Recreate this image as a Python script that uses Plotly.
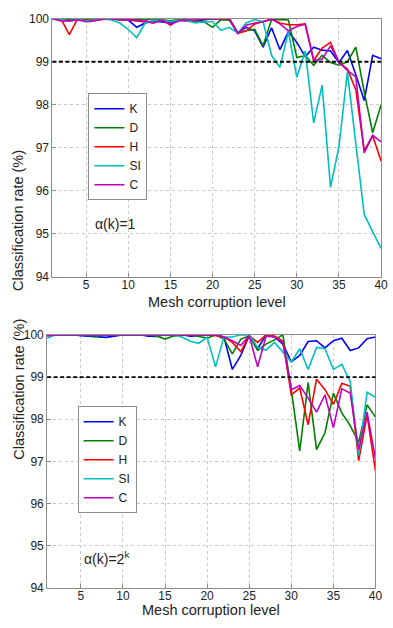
import plotly.graph_objects as go

levels = list(range(1, 41))
series_names = ["K", "D", "H", "SI", "C"]
series_colors = ["#0000FF", "#008000", "#FF0000", "#00BFBF", "#BF00BF"]
threshold = 99

# alpha(k) = 1
top_K = [100, 100, 99.98, 100, 99.97, 99.98, 100, 100, 100, 99.97,
         99.8, 99.9, 99.95, 99.93, 99.9, 99.97, 99.95, 99.95, 99.98, 100,
         100, 99.98, 99.67, 99.8, 99.72, 99.34, 99.79, 99.28, 99.7, 99.45,
         99.12, 99.34, 99.27, 99.25, 98.98, 99.26, 98.7, 98.1, 99.15, 99.07]
top_D = [100, 100, 99.98, 100, 99.98, 99.97, 100, 100, 99.98, 100,
         99.98, 99.97, 100, 99.98, 99.95, 99.98, 99.97, 99.92, 99.93, 99.8,
         99.98, 99.97, 99.66, 99.72, 99.75, 99.37, 99.98, 99.98, 99.97, 99.1,
         99.14, 98.92, 99.15, 98.98, 98.92, 99.0, 99.34, 98.3, 97.35, 98.0]
top_H = [100, 100, 99.63, 100, 99.95, 99.97, 99.98, 100, 99.97, 99.98,
         99.95, 99.92, 99.9, 99.97, 99.85, 99.97, 99.95, 99.97, 100, 100,
         100, 100, 99.66, 99.72, 99.88, 99.93, 99.99, 99.9, 99.86, 99.86,
         99.88, 99.03, 99.32, 99.45, 98.98, 98.83, 98.35, 96.93, 97.28, 96.69]
top_SI = [100, 99.98, 99.95, 99.98, 99.95, 99.97, 100, 99.97, 99.9, 99.75,
          99.56, 99.9, 99.95, 99.97, 99.93, 99.97, 99.95, 99.9, 99.93, 99.93,
          99.73, 99.8, 99.66, 99.9, 99.98, 99.93, 99.15, 98.87, 99.7, 98.64,
          99.25, 97.58, 98.45, 96.08, 97.03, 98.76, 97.1, 95.45, 95.05, 94.66]
top_C = [100, 99.95, 99.95, 99.97, 99.93, 99.95, 100, 100, 99.98, 99.97,
         99.97, 99.95, 99.9, 99.97, 99.87, 99.95, 99.97, 99.97, 100, 100,
         100, 100, 99.66, 99.85, 99.9, 99.93, 99.99, 99.88, 99.72, 99.82,
         99.87, 99.04, 99.06, 99.37, 98.99, 98.8, 98.65, 96.88, 97.29, 97.14]

# alpha(k) = 2^k
bot_K = [100, 100, 100, 100, 99.98, 99.97, 99.95, 99.94, 99.97, 100,
         100, 100, 99.97, 99.96, 100, 100, 100, 99.97, 99.98, 100,
         100, 99.95, 99.18, 99.51, 99.98, 99.67, 100, 99.95, 99.78, 99.36,
         99.51, 99.84, 99.86, 99.69, 99.86, 99.92, 99.63, 99.69, 99.91, 99.95]
bot_D = [100, 100, 100, 100, 100, 99.98, 99.97, 100, 100, 100,
         100, 100, 100, 99.97, 99.9, 99.97, 100, 100, 99.96, 99.92,
         100, 99.9, 99.55, 99.9, 99.97, 99.63, 99.78, 99.88, 100, 98.7,
         97.25, 98.87, 97.28, 97.68, 98.62, 98.15, 97.85, 97.45, 98.34, 98.05]
bot_H = [100, 100, 100, 100, 100, 100, 100, 100, 100, 100,
         100, 100, 100, 100, 100, 100, 100, 100, 100, 100,
         99.98, 99.95, 99.82, 99.6, 99.98, 99.82, 100, 99.97, 99.85, 98.58,
         98.74, 97.87, 98.95, 98.7, 98.35, 98.85, 98.78, 97.02, 98.1, 96.77]
bot_SI = [99.92, 100, 100, 100, 100, 100, 100, 100, 100, 100,
          100, 100, 100, 100, 100, 100, 99.95, 99.85, 99.8, 99.94,
          99.24, 99.95, 99.95, 100, 100, 99.7, 99.64, 99.82, 99.59, 99.36,
          99.67, 99.18, 99.7, 99.67, 99.18, 99.3, 98.89, 97.14, 98.64, 98.52]
bot_C = [99.97, 100, 100, 100, 100, 100, 100, 100, 100, 100,
         100, 100, 100, 100, 100, 100, 100, 100, 100, 100,
         100, 99.95, 99.86, 99.75, 99.98, 99.24, 99.97, 99.95, 99.82, 98.7,
         98.8, 98.5, 98.17, 98.58, 97.8, 98.72, 98.62, 97.28, 98.17, 97.06]

x_ticks = [5, 10, 15, 20, 25, 30, 35, 40]
y_ticks = [94, 95, 96, 97, 98, 99, 100]
x_title = "Mesh corruption level"
y_title = "Classification rate (%)"
labels = ["α(k)=1", "α(k)=2<sup>k</sup>"]

FONT = "Arial, Liberation Sans, sans-serif"
W, H = 393, 628

fig = go.Figure()
tops = [top_K, top_D, top_H, top_SI, top_C]
bots = [bot_K, bot_D, bot_H, bot_SI, bot_C]
for name, col, ys in zip(series_names, series_colors, tops):
    fig.add_trace(go.Scatter(x=levels, y=ys, mode="lines", name=name,
                             line=dict(color=col, width=1.6),
                             xaxis="x", yaxis="y", legend="legend"))
for name, col, ys in zip(series_names, series_colors, bots):
    fig.add_trace(go.Scatter(x=levels, y=ys, mode="lines", name=name,
                             line=dict(color=col, width=1.6),
                             xaxis="x2", yaxis="y2", legend="legend2"))

def ax(domain, anchor, ticks, rng, standoff):
    return dict(domain=domain, anchor=anchor, range=rng, tickvals=ticks,
                showline=True, linecolor="#8c8c8c", linewidth=1, mirror=True,
                ticks="inside", ticklen=4, tickcolor="#8c8c8c",
                showgrid=True, gridcolor="#c8c8c8", griddash="dot", gridwidth=1,
                zeroline=False, tickfont=dict(family=FONT, size=12, color="#222"),
                ticklabelstandoff=standoff, fixedrange=True)

def px2x(p):
    return p / W

def px2y(p):
    return 1 - p / H

top_xd = [px2x(53.4), px2x(388)]
top_yd = [px2y(276), px2y(12)]
bot_xd = [px2x(48), px2x(382.3)]
bot_yd = [px2y(594.3), px2y(335.3)]

leg_common = dict(xanchor="left", yanchor="middle",
                  bordercolor="#8c8c8c", borderwidth=1, bgcolor="white",
                  font=dict(family=FONT, size=12, color="#222"), itemwidth=30,
                  tracegroupgap=0)

fig.update_layout(
    width=W, height=H, margin=dict(l=0, r=0, t=0, b=0),
    paper_bgcolor="white", plot_bgcolor="white",
    font=dict(family=FONT, size=12, color="#222"),
    xaxis=ax(top_xd, "y", x_ticks, [1, 40], -3),
    yaxis=ax(top_yd, "x", y_ticks, [94, 100], 0),
    xaxis2=ax(bot_xd, "y2", x_ticks, [1, 40], -3),
    yaxis2=ax(bot_yd, "x2", y_ticks, [94, 100], 0),
    legend=dict(x=px2x(90), y=px2y(143), **leg_common),
    legend2=dict(x=px2x(79), y=px2y(463), **leg_common),
    showlegend=True,
)

for xr, yr in [("x domain", "y"), ("x2 domain", "y2")]:
    fig.add_shape(type="line", xref=xr, yref=yr, x0=0, x1=1, y0=threshold, y1=threshold,
                  line=dict(color="black", width=1.8, dash="4px,2.5px"))

fig.add_annotation(text=labels[0], x=8.5, y=95.24, xref="x", yref="y", showarrow=False,
                   font=dict(family=FONT, size=14, color="#222"))
fig.add_annotation(text=labels[1], x=8.0, y=94.72, xref="x2", yref="y2", showarrow=False,
                   font=dict(family=FONT, size=14, color="#222"))

for cx, cy in [(220.7, 302), (215.2, 617)]:
    fig.add_annotation(text=x_title, x=px2x(cx), y=px2y(cy), xref="paper", yref="paper",
                       showarrow=False, yanchor="middle",
                       font=dict(family=FONT, size=14.5, color="#222"))
for cy in [144, 465]:
    fig.add_annotation(text=y_title, x=px2x(19), y=px2y(cy), xref="paper", yref="paper",
                       showarrow=False, textangle=-90, xanchor="center",
                       font=dict(family=FONT, size=14.5, color="#222"))

fig.write_html("out.html", config={"displayModeBar": False},
               post_script="document.body.style.margin='0';document.body.style.padding='0';"
                           "document.documentElement.style.overflow='hidden';")
